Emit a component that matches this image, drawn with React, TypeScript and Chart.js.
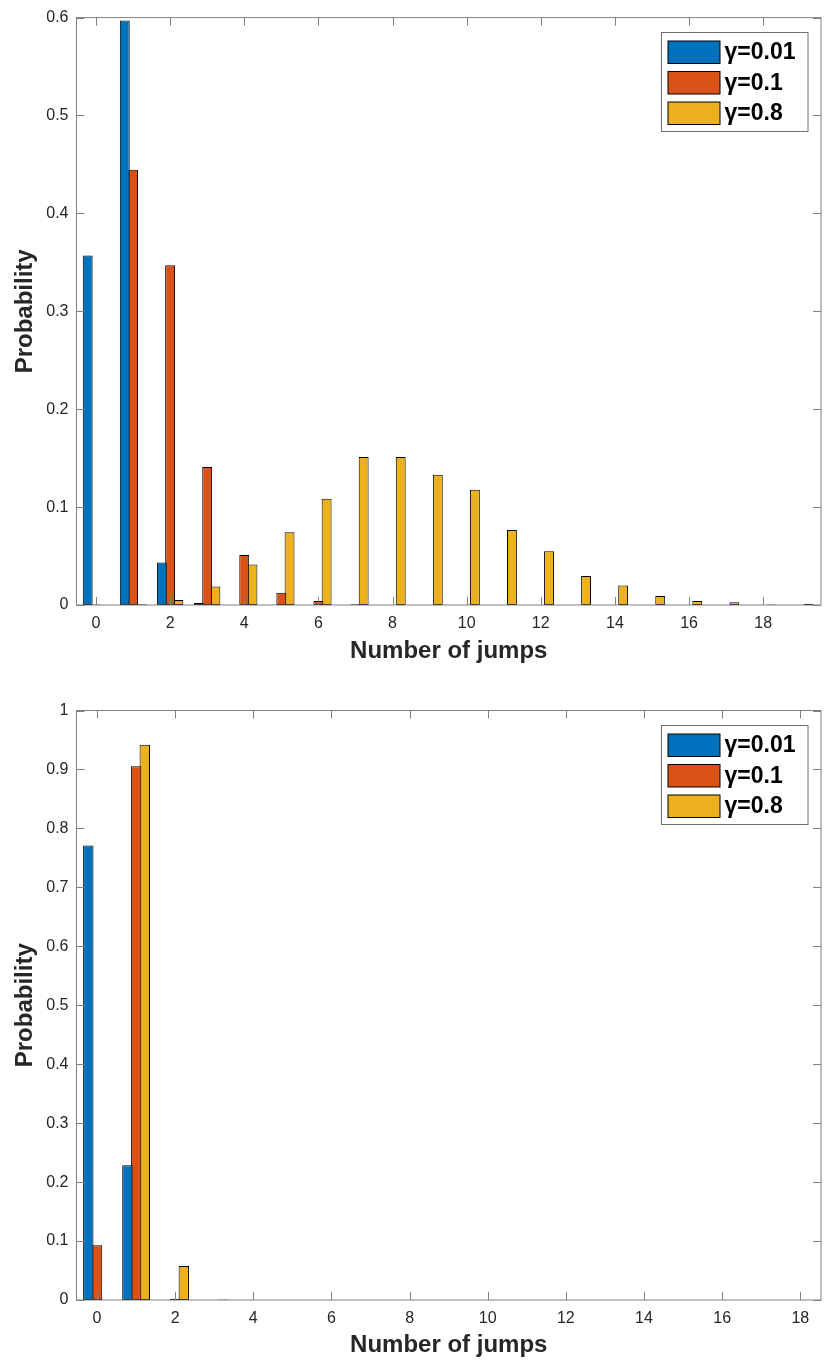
import { useEffect, useRef } from "react"
import { Chart, registerables } from "chart.js"

Chart.register(...registerables)

// series labels and MATLAB default colours
const gammaLabels = ["γ=0.01", "γ=0.1", "γ=0.8"]
const barColors = ["#0072BD", "#D95319", "#EDB120"]

// upper panel
const jumpsTop = [0, 1, 2, 3, 4, 5, 6, 7, 8, 9, 10, 11, 12, 13, 14, 15, 16, 17, 18, 19]
const topGamma001 = [0.357, 0.597, 0.0435, 0.002, 0, 0, 0, 0, 0, 0, 0, 0, 0, 0, 0, 0, 0, 0, 0, 0]
const topGamma01 = [0.0005, 0.4445, 0.347, 0.141, 0.051, 0.0125, 0.004, 0.0008, 0, 0, 0, 0, 0, 0, 0, 0, 0, 0, 0, 0]
const topGamma08 = [0, 0.0008, 0.005, 0.019, 0.0414, 0.0743, 0.1086, 0.1513, 0.1513, 0.133, 0.1177, 0.0767, 0.055, 0.0295, 0.02, 0.0092, 0.004, 0.0027, 0.0006, 0.0012]
const topXTicks = [0, 2, 4, 6, 8, 10, 12, 14, 16, 18]
const topYTicks = [0, 0.1, 0.2, 0.3, 0.4, 0.5, 0.6]

// lower panel
const jumpsBottom = [0, 1, 2, 3, 4, 5, 6, 7, 8, 9, 10, 11, 12, 13, 14, 15, 16, 17, 18]
const bottomGamma001 = [0.771, 0.2285, 0, 0, 0, 0, 0, 0, 0, 0, 0, 0, 0, 0, 0, 0, 0, 0, 0]
const bottomGamma01 = [0.0928, 0.9056, 0.002, 0, 0, 0, 0, 0, 0, 0, 0, 0, 0, 0, 0, 0, 0, 0, 0]
const bottomGamma08 = [0, 0.9418, 0.0577, 0.001, 0, 0, 0, 0, 0, 0, 0, 0, 0, 0, 0, 0, 0, 0, 0]
const bottomXTicks = [0, 2, 4, 6, 8, 10, 12, 14, 16, 18]
const bottomYTicks = [0, 0.1, 0.2, 0.3, 0.4, 0.5, 0.6, 0.7, 0.8, 0.9, 1]

const FONT = "'Liberation Sans', Arial, Helvetica, sans-serif"
const TEXT = "#262626"
const AXIS = "#808080"

// box, inward ticks on all four sides and the in-plot legend
const matlabFrame = {
  id: "matlabFrame",
  afterDatasetsDraw(chart: any) {
    const { ctx, chartArea: a, scales } = chart
    const x = scales.x
    const y = scales.y
    const len = 8
    ctx.save()
    ctx.strokeStyle = AXIS
    ctx.lineWidth = 1
    ctx.beginPath()
    x.ticks.forEach((t: any) => {
      const px = Math.round(x.getPixelForValue(t.value)) + 0.5
      ctx.moveTo(px, a.bottom)
      ctx.lineTo(px, a.bottom - len)
      ctx.moveTo(px, a.top)
      ctx.lineTo(px, a.top + len)
    })
    y.ticks.forEach((t: any) => {
      const py = Math.round(y.getPixelForValue(t.value)) + 0.5
      ctx.moveTo(a.left, py)
      ctx.lineTo(a.left + len, py)
      ctx.moveTo(a.right, py)
      ctx.lineTo(a.right - len, py)
    })
    ctx.stroke()
    ctx.strokeRect(a.left, a.top, a.right - a.left, a.bottom - a.top)

    // legend
    const boxW = 146.5
    const boxH = 99
    const bx = Math.round(a.right - 13.5 - boxW) + 0.5
    const by = Math.round(a.top + 14) + 0.5
    ctx.fillStyle = "#ffffff"
    ctx.fillRect(bx, by, boxW, boxH)
    ctx.strokeStyle = "#6e6e6e"
    ctx.strokeRect(bx, by, boxW, boxH)
    ctx.font = `bold 23px ${FONT}`
    ctx.textBaseline = "middle"
    ctx.textAlign = "left"
    chart.data.datasets.forEach((ds: any, i: number) => {
      const cy = by + 19.5 + i * 30.5
      ctx.fillStyle = ds.backgroundColor
      ctx.fillRect(bx + 6.5, cy - 11, 52, 22.5)
      ctx.strokeStyle = "#000000"
      ctx.strokeRect(bx + 6.5, cy - 11, 52, 22.5)
      ctx.fillStyle = "#000000"
      ctx.fillText(ds.label, bx + 63, cy + 1)
    })
    ctx.restore()
  },
}

interface HistogramProps {
  jumps: number[]
  series: number[][]
  xMin: number
  xMax: number
  xTicks: number[]
  yTicks: number[]
  height: number
  plotTop: number
  plotBottom: number
  plotLeft: number
  plotRight: number
  xTitleGap: number
}

function JumpHistogram(props: HistogramProps) {
  const canvasRef = useRef<HTMLCanvasElement>(null)
  const chartInstance = useRef<Chart | null>(null)

  useEffect(() => {
    if (!canvasRef.current) return
    if (chartInstance.current) chartInstance.current.destroy()

    const { jumps, series, xMin, xMax, xTicks, yTicks, height, plotTop, plotBottom, plotLeft, plotRight, xTitleGap } = props

    chartInstance.current = new Chart(canvasRef.current, {
      type: "bar",
      data: {
        datasets: series.map((values, i) => ({
          label: gammaLabels[i],
          data: jumps.map((j, k) => ({ x: j, y: values[k] })),
          backgroundColor: barColors[i],
          borderColor: "#000000",
          borderWidth: 1,
          borderSkipped: false,
          categoryPercentage: 0.667,
          barPercentage: 1.2,
        })),
      },
      options: {
        responsive: false,
        animation: false,
        layout: { padding: { left: 0, top: plotTop, right: 832 - plotRight, bottom: 0 } },
        plugins: {
          legend: { display: false },
          tooltip: { enabled: false },
        },
        scales: {
          x: {
            type: "linear",
            offset: false,
            min: xMin,
            max: xMax,
            afterBuildTicks: (s: any) => {
              s.ticks = xTicks.map((v) => ({ value: v }))
            },
            afterFit: (s: any) => {
              s.height = height - plotBottom
            },
            grid: { display: false, drawTicks: false, offset: false },
            border: { display: false },
            ticks: {
              padding: 9,
              color: TEXT,
              font: { family: FONT, size: 16 },
              callback: (v: any) => String(v),
            },
            title: {
              display: true,
              text: "Number of jumps",
              color: TEXT,
              font: { family: FONT, size: 24, weight: "bold" },
              padding: { top: 0, bottom: xTitleGap },
            },
          },
          y: {
            type: "linear",
            min: 0,
            max: yTicks[yTicks.length - 1],
            afterBuildTicks: (s: any) => {
              s.ticks = yTicks.map((v) => ({ value: v }))
            },
            afterFit: (s: any) => {
              s.width = plotLeft
            },
            grid: { display: false, drawTicks: false },
            border: { display: false },
            ticks: {
              padding: 8,
              color: TEXT,
              font: { family: FONT, size: 16 },
              callback: (v: any) => String(v),
            },
            title: {
              display: true,
              text: "Probability",
              color: TEXT,
              font: { family: FONT, size: 24, weight: "bold" },
              padding: { top: 10.5, bottom: 0 },
            },
          },
        },
      },
      plugins: [matlabFrame],
    })

    return () => {
      if (chartInstance.current) {
        chartInstance.current.destroy()
        chartInstance.current = null
      }
    }
  }, [props])

  return (
    <div style={{ width: 832, height: props.height }}>
      <canvas ref={canvasRef} width={832} height={props.height} style={{ display: "block" }} />
    </div>
  )
}

const topProps: HistogramProps = {
  jumps: jumpsTop,
  series: [topGamma001, topGamma01, topGamma08],
  xMin: -0.525,
  xMax: 19.56,
  xTicks: topXTicks,
  yTicks: topYTicks,
  height: 690,
  plotTop: 15.5,
  plotBottom: 605,
  plotLeft: 76.5,
  plotRight: 821,
  xTitleGap: 24.5,
}

const bottomProps: HistogramProps = {
  jumps: jumpsBottom,
  series: [bottomGamma001, bottomGamma01, bottomGamma08],
  xMin: -0.525,
  xMax: 18.53,
  xTicks: bottomXTicks,
  yTicks: bottomYTicks,
  height: 682,
  plotTop: 20.5,
  plotBottom: 610,
  plotLeft: 76.5,
  plotRight: 821,
  xTitleGap: 12.5,
}

export default function App() {
  useEffect(() => {
    document.body.style.margin = "0"
    document.body.style.background = "#ffffff"
  }, [])

  return (
    <div style={{ width: 832, background: "#ffffff" }}>
      <JumpHistogram {...topProps} />
      <JumpHistogram {...bottomProps} />
    </div>
  )
}
